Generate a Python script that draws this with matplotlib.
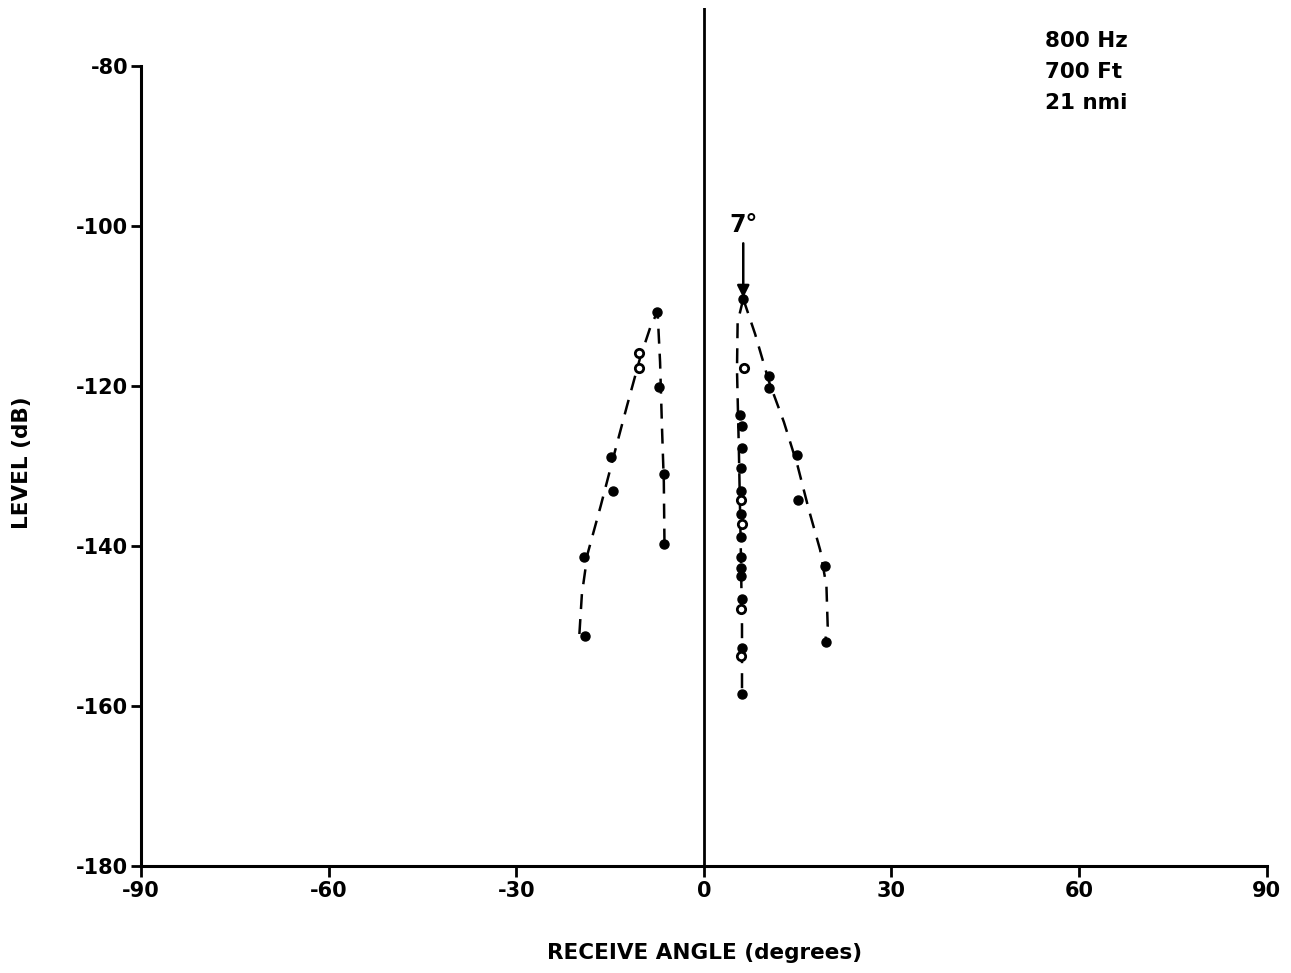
import matplotlib.pyplot as plt

plt.rcParams['font.family'] = ['DejaVu Sans']
plt.rcParams['font.weight'] = 'bold'

# measured points (angle deg, level dB)
left_pts_x = [-7.5, -7.1, -14.8, -6.4, -14.6, -19.1, -6.3, -19.0]
left_pts_y = [-110.7, -120.1, -128.9, -131.0, -133.1, -141.4, -139.7, -151.2]
left_open_x = [-10.3, -10.3]
left_open_y = [-115.9, -117.8]

right_pts_x = [6.3, 10.4, 10.4, 5.8, 6.1, 6.1, 6.0, 14.9, 15.0, 6.0, 6.0, 19.4,
               6.0, 6.0, 6.0, 6.0, 6.1, 6.1, 19.6, 6.1]
right_pts_y = [-109.1, -118.7, -120.2, -123.6, -125.0, -127.7, -130.2, -128.6, -134.2,
               -133.1, -136.0, -142.5, -138.9, -141.4, -142.7, -143.7, -146.6, -152.7,
               -152.0, -158.5]
right_open_x = [6.4, 6.0, 6.1, 6.0, 6.0]
right_open_y = [-117.8, -134.3, -137.3, -147.9, -153.8]

# dashed trend curves
left_curve_x = [-19.9, -19.5, -18.6, -16.5, -14.5, -12.3, -10.2, -8.5, -7.4, -7.0, -6.7, -6.4, -6.3]
left_curve_y = [-151.0, -146.0, -141.0, -135.0, -129.0, -122.5, -116.5, -112.5, -110.7, -117.0, -125.0, -132.0, -139.5]
right_curve1_x = [6.3, 8.2, 10.4, 12.8, 15.0, 16.8, 18.6, 19.6, 19.8, 19.3]
right_curve1_y = [-109.1, -113.5, -119.4, -124.5, -130.0, -135.5, -140.5, -145.0, -150.0, -152.3]
right_curve2_x = [6.3, 5.4, 5.3, 5.6, 5.9, 6.1, 6.1]
right_curve2_y = [-109.1, -112.0, -118.0, -128.0, -140.0, -150.0, -158.5]

x_ticks = [-90, -60, -30, 0, 30, 60, 90]
y_ticks = [-80, -100, -120, -140, -160, -180]

fig = plt.figure(figsize=(12.91, 9.73), dpi=100)
ax = fig.add_axes([0.1092, 0.110, 0.872, 0.882])

dash = (0, (6, 4))
for cx, cy in [(left_curve_x, left_curve_y), (right_curve1_x, right_curve1_y),
               (right_curve2_x, right_curve2_y)]:
    ax.plot(cx, cy, color='black', lw=1.8, linestyle=dash)

ax.plot(left_pts_x + right_pts_x, left_pts_y + right_pts_y, 'o', color='black', ms=6.5)
ax.plot(left_open_x + right_open_x, left_open_y + right_open_y, 'o', mfc='white',
        mec='black', mew=2, ms=6)

ax.axvline(0, color='black', lw=2)

ax.set_xlim(-90, 90)
ax.set_ylim(-180, -72.7)
ax.spines['top'].set_visible(False)
ax.spines['right'].set_visible(False)
ax.spines['left'].set_bounds(-180, -80)
ax.spines['left'].set_linewidth(2.2)
ax.spines['bottom'].set_linewidth(2.2)
ax.set_xticks(x_ticks)
ax.set_yticks(y_ticks)
ax.set_xticklabels([str(t) for t in x_ticks])
ax.set_yticklabels([str(t) for t in y_ticks])
ax.tick_params(axis='x', direction='out', length=8, width=2, labelsize=15, pad=3)
ax.tick_params(axis='y', direction='out', length=7, width=2, labelsize=15, pad=2)

ax.set_xlabel('RECEIVE ANGLE (degrees)', fontsize=15.5, fontweight='bold')
ax.set_ylabel('LEVEL (dB)', fontsize=15.5, fontweight='bold')
ax.xaxis.set_label_coords(0.501, -0.101)
ax.yaxis.set_label_coords(-0.106, 0.47)
ax.xaxis.label.set_va('center')
ax.yaxis.label.set_va('center')

ax.annotate('', xy=(6.3, -109.3), xytext=(6.3, -101.8),
            arrowprops=dict(arrowstyle='-|>', color='black', lw=1.8, mutation_scale=18))
ax.text(6.3, -101.3, '7°', fontsize=17, fontweight='bold', ha='center', va='bottom')

ax.text(54.6, -75.6, '800 Hz\n700 Ft\n21 nmi', fontsize=15.5, fontweight='bold',
        ha='left', va='top', linespacing=1.7)

fig.savefig('out.png', dpi=100)
